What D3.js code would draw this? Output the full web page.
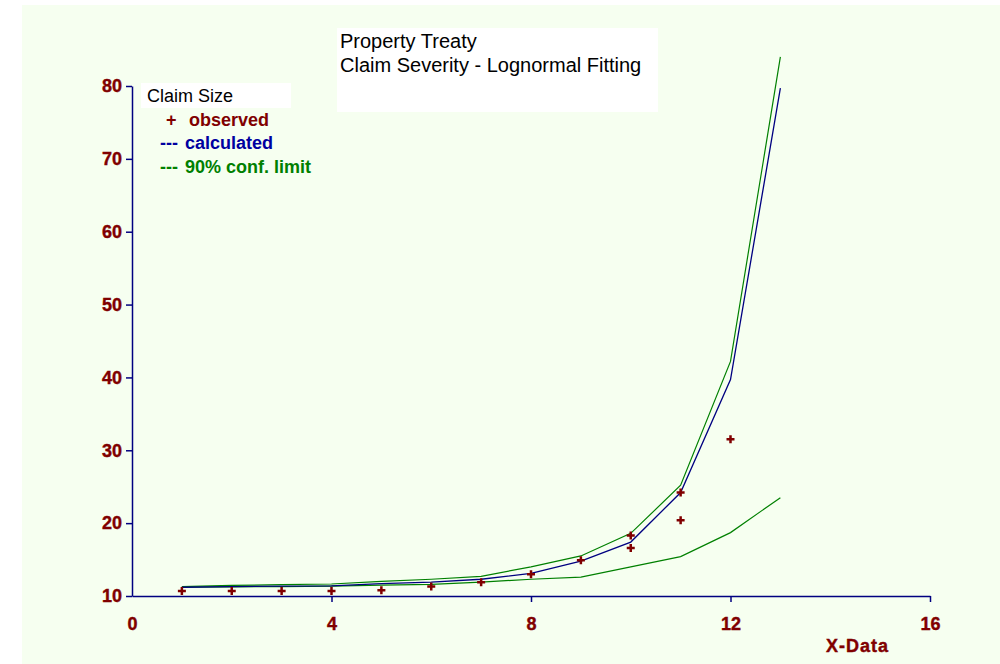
<!DOCTYPE html>
<html>
<head>
<meta charset="utf-8">
<script src="https://cdn.jsdelivr.net/npm/d3@7"></script>
<style>
  body { margin: 0; background: #ffffff; }
  svg { display: block; font-family: "Liberation Sans", Arial, sans-serif; }
</style>
</head>
<body>
<svg width="1000" height="664"></svg>
<script>
// x positions of the fitted curves
var xValues = [1, 2, 3, 4, 5, 6, 7, 8, 9, 10, 11, 12, 13];
var calculated = [11.2, 11.3, 11.35, 11.4, 11.7, 11.9, 12.3, 13.1, 14.8, 17.4, 24.2, 39.7, 79.7];
var upperLimit = [11.3, 11.45, 11.55, 11.65, 12.0, 12.3, 12.7, 14.0, 15.5, 18.6, 25.2, 42.2, 84.0];
var lowerLimit = [11.2, 11.25, 11.3, 11.35, 11.5, 11.6, 11.9, 12.3, 12.6, 14.0, 15.4, 18.7, 23.5];

// observed claim sizes
var obsX = [1, 2, 3, 4, 5, 6, 7, 8, 9, 10, 10, 11, 11, 12];
var obsY = [10.7, 10.7, 10.7, 10.7, 10.8, 11.3, 11.9, 13.0, 14.9, 18.3, 16.6, 24.2, 20.4, 31.5];

var xTicks = [0, 4, 8, 12, 16];
var yTicks = [10, 20, 30, 40, 50, 60, 70, 80];

var titleLines = ["Property Treaty", "Claim Severity - Lognormal Fitting"];

var darkRed = "#800000", navy = "#000080", green = "#008000";

var svg = d3.select("svg");

svg.append("rect")
  .attr("x", 22).attr("y", 5)
  .attr("width", 978).attr("height", 659)
  .attr("fill", "#f6fff0");

var x = d3.scaleLinear().domain([0, 16]).range([132, 930]);
var y = d3.scaleLinear().domain([10, 80]).range([596, 86]);

// title box
svg.append("rect")
  .attr("x", 337).attr("y", 28)
  .attr("width", 321).attr("height", 84)
  .attr("fill", "#ffffff");

svg.append("g")
  .selectAll("text")
  .data(titleLines)
  .enter()
  .append("text")
  .attr("x", 340)
  .attr("y", function (d, i) { return 48 + i * 24; })
  .attr("font-size", 20)
  .attr("fill", "#000")
  .text(function (d) { return d; });

// axes
var yAxis = d3.axisLeft(y)
  .tickValues(yTicks)
  .tickSize(6)
  .tickSizeOuter(0)
  .tickPadding(4);

var xAxis = d3.axisBottom(x)
  .tickValues(xTicks)
  .tickSize(6)
  .tickSizeOuter(0)
  .tickPadding(15);

var gy = svg.append("g").call(yAxis);
var gx = svg.append("g").attr("transform", "translate(0," + y(10) + ")").call(xAxis);

[gx, gy].forEach(function (g) {
  g.selectAll("path, line").attr("stroke", navy).attr("stroke-width", 1.5);
  g.selectAll("text")
    .attr("fill", darkRed)
    .attr("stroke", darkRed)
    .attr("stroke-width", 0.4)
    .attr("font-size", 18)
    .attr("font-weight", "bold")
    .attr("font-family", "'Liberation Sans', Arial, sans-serif");
});
gy.attr("transform", "translate(" + x(0) + ",0)");
gx.selectAll(".tick").filter(function (d) { return d === 0; }).select("line").remove();

svg.append("text")
  .attr("x", 826).attr("y", 652)
  .attr("font-size", 18)
  .attr("font-weight", "bold")
  .attr("letter-spacing", 1)
  .attr("fill", darkRed)
  .attr("stroke", darkRed)
  .attr("stroke-width", 0.4)
  .text("X-Data");

// curves
var line = d3.line()
  .x(function (d) { return x(d[0]); })
  .y(function (d) { return y(d[1]); });

function series(vals) {
  return xValues.map(function (v, i) { return [v, vals[i]]; });
}

svg.append("g")
  .selectAll("path")
  .data([
    { vals: lowerLimit, color: green, w: 1.2 },
    { vals: upperLimit, color: green, w: 1.2 },
    { vals: calculated, color: navy, w: 1.3 }
  ])
  .enter()
  .append("path")
  .attr("d", function (d) { return line(series(d.vals)); })
  .attr("fill", "none")
  .attr("stroke", function (d) { return d.color; })
  .attr("stroke-width", function (d) { return d.w; });

// observed markers
svg.append("g")
  .selectAll("path")
  .data(obsX.map(function (v, i) { return [v, obsY[i]]; }))
  .enter()
  .append("path")
  .attr("d", function (d) {
    var cx = x(d[0]), cy = y(d[1]);
    return "M" + (cx - 4) + "," + cy + "H" + (cx + 4) + "M" + cx + "," + (cy - 4) + "V" + (cy + 4);
  })
  .attr("stroke", darkRed)
  .attr("stroke-width", 2.5)
  .attr("fill", "none");

// legend
svg.append("rect")
  .attr("x", 141).attr("y", 83)
  .attr("width", 150).attr("height", 25)
  .attr("fill", "#ffffff");

svg.append("text")
  .attr("x", 147).attr("y", 102)
  .attr("font-size", 18)
  .attr("fill", "#000")
  .text("Claim Size");

var legendItems = [
  { mark: "+", label: "observed", color: darkRed, xm: 166, xl: 189, y: 126 },
  { mark: "---", label: "calculated", color: "#0000a0", xm: 160, xl: 185, y: 149 },
  { mark: "---", label: "90% conf. limit", color: green, xm: 160, xl: 185, y: 173 }
];

var leg = svg.append("g")
  .selectAll("g")
  .data(legendItems)
  .enter()
  .append("g")
  .attr("font-size", 18)
  .attr("font-weight", "bold")
  .attr("fill", function (d) { return d.color; });

leg.append("text")
  .attr("x", function (d) { return d.xm; })
  .attr("y", function (d) { return d.y; })
  .text(function (d) { return d.mark; });

leg.append("text")
  .attr("x", function (d) { return d.xl; })
  .attr("y", function (d) { return d.y; })
  .text(function (d) { return d.label; });
</script>
</body>
</html>
